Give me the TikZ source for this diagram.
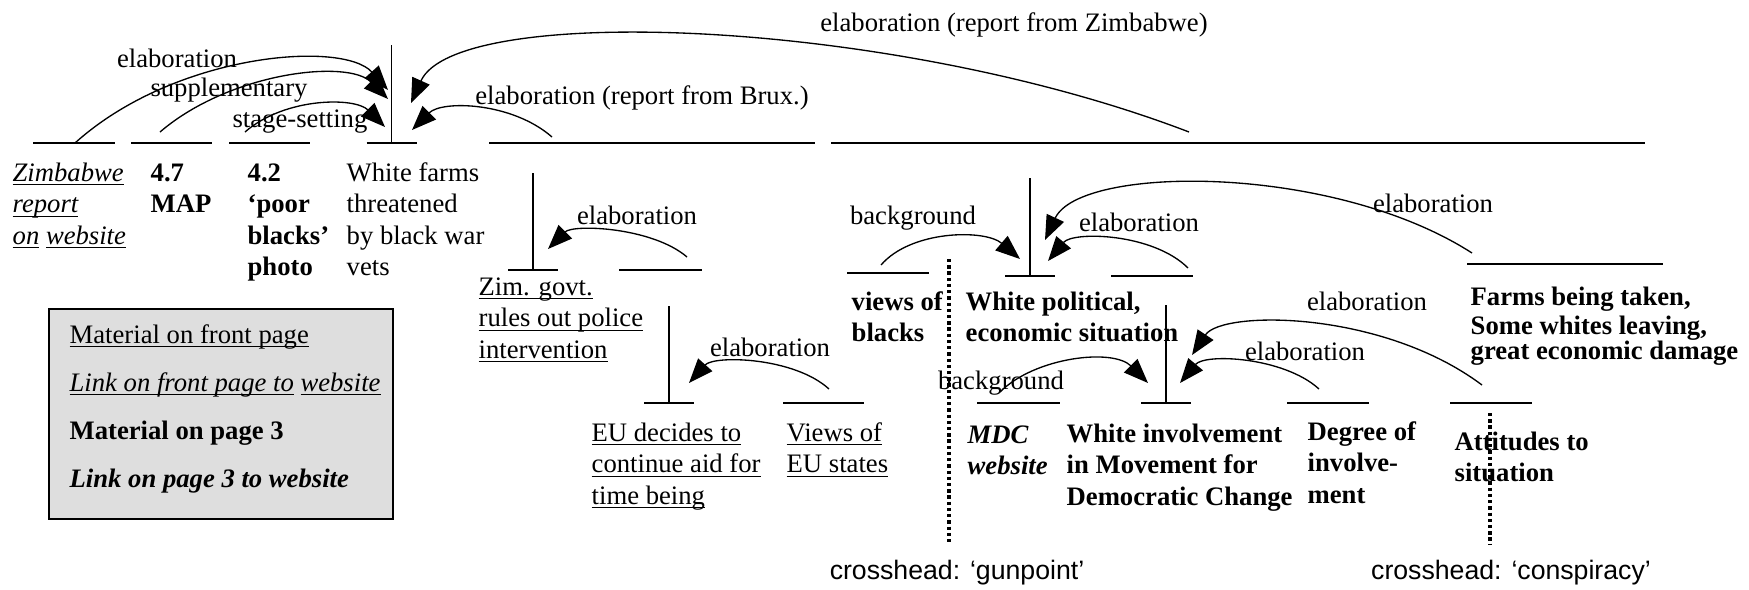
\documentclass[tikz,border=0pt]{standalone}
\usepackage{fontspec}
\setmainfont{Liberation Serif}
\newfontfamily\headfont{Liberation Sans}
\usetikzlibrary{arrows.meta}
\definecolor{boxgray}{gray}{0.87}
\newcommand\ulined[1]{\setbox0\hbox{#1}\rlap{\rule[-1.8pt]{\wd0}{0.5pt}}\box0\relax}

\begin{document}
\begin{tikzpicture}[x=0.45pt,y=-0.45pt,line width=0.6pt,
  txt/.style={anchor=north west,inner sep=0pt,align=left,font=\fontsize{12}{14.2}\selectfont},
  txtb/.style={txt,font=\fontsize{12}{14.2}\selectfont\bfseries},
  txti/.style={txt,font=\fontsize{12}{14.2}\selectfont\itshape},
  txtbi/.style={txt,font=\fontsize{12}{14.2}\selectfont\bfseries\itshape},
  lbl/.style={inner sep=0pt,font=\fontsize{12}{14.2}\selectfont},
  rel/.style={-{Triangle[length=11pt,width=8.5pt]}},
  cut/.style={line width=1.5pt,dash pattern=on 1.5pt off 1.3pt},
  crosslbl/.style={inner sep=0pt,font=\fontsize{12}{14.2}\headfont}]
\useasboundingbox (0,0) rectangle (1749,589);

% spans
\foreach \xa/\xb/\y in {33/115/143, 131/212/143, 229/310/143, 489/815/143, 831/1645/143,
  619/702/270, 847/929/273, 1111/1193/276, 1467/1663/264,
  783/864/403, 977/1060/403, 1287/1369/403, 1450/1532/403}
  \draw (\xa,\y) -- (\xb,\y);
% nuclei
\foreach \xn/\ya/\yb in {391.7/45/143, 533/173/270, 669/306/403, 1030/178/276, 1166/305/403}
  \draw (\xn-25,\yb) -- (\xn+25,\yb) (\xn,\yb) -- (\xn,\ya);

% crossheads
\draw[cut] (949,259) -- (949,545);
\draw[cut] (1490,413) -- (1490,545);
\node[crosslbl] (gunpoint) at (957,573) {crosshead: ‘gunpoint’};
\node[crosslbl] (conspiracy) at (1511,573) {crosshead: ‘conspiracy’};

% relations
\coordinate (repA) at (75,143);    \coordinate (topA) at (388,90);
\coordinate (mapA) at (160,132);   \coordinate (topB) at (388,99);
\coordinate (photoA) at (245,132); \coordinate (topC) at (385,127);
\coordinate (bruxA) at (552,137);  \coordinate (topD) at (412,130);
\coordinate (zimA) at (1189,132);  \coordinate (topE) at (411,103);
\coordinate (govA) at (687,257);   \coordinate (govB) at (548,249);
\coordinate (euA) at (829,389);    \coordinate (euB) at (689,383);
\coordinate (viewsA) at (881,265); \coordinate (polA) at (1020,259);
\coordinate (polsatA) at (1188,268); \coordinate (polB) at (1048,261);
\coordinate (farmsA) at (1472,253);  \coordinate (polC) at (1045,240);
\coordinate (mdcA) at (1000,392);  \coordinate (invA) at (1148,383);
\coordinate (degA) at (1319,389);  \coordinate (invB) at (1180,383);
\coordinate (attA) at (1482,385);  \coordinate (invC) at (1192,355);

\draw[rel] (repA) .. controls +(100,-90) and +(-45,-50) .. (topA);
\draw[rel] (mapA) .. controls +(70,-60) and +(-40,-40) .. (topB);
\draw[rel] (photoA) .. controls +(40,-35) and +(-30,-30) .. (topC);
\draw[rel] (bruxA) .. controls +(-40,-35) and +(30,-30) .. (topD);
\draw[rel] (zimA) .. controls +(-300,-115) and +(45,-100) .. (topE);
\draw[rel] (govA) .. controls +(-35,-30) and +(25,-25) .. (govB);
\draw[rel] (euA) .. controls +(-35,-32) and +(25,-28) .. (euB);
\draw[rel] (viewsA) .. controls +(30,-35) and +(-35,-30) .. (polA);
\draw[rel] (polsatA) .. controls +(-35,-35) and +(25,-30) .. (polB);
\draw[rel] (farmsA) .. controls +(-140,-90) and +(35,-75) .. (polC);
\draw[rel] (mdcA) .. controls +(35,-35) and +(-35,-35) .. (invA);
\draw[rel] (degA) .. controls +(-35,-32) and +(25,-30) .. (invB);
\draw[rel] (attA) .. controls +(-100,-75) and +(30,-45) .. (invC);

\node[lbl] (elabRep) at (177,58) {elaboration};
\node[lbl] (suppMap) at (229,90) {supplementary};
\node[lbl] (stagePhoto) at (300,122) {stage-setting};
\node[lbl] (elabBrux) at (642,98) {elaboration (report from Brux.)};
\node[lbl] (elabZim) at (1014,25) {elaboration (report from Zimbabwe)};
\node[lbl] (elabGov) at (637,215) {elaboration};
\node[lbl] (elabEU) at (770,347) {elaboration};
\node[lbl] (bgViews) at (913,218) {background};
\node[lbl] (elabPol) at (1139,222) {elaboration};
\node[lbl] (elabFarms) at (1433,203) {elaboration};
\node[lbl] (bgMDC) at (1001,383) {background};
\node[lbl] (elabDeg) at (1305,351) {elaboration};
\node[lbl] (elabAtt) at (1367,301) {elaboration};

% segments
\node[txti] (zimrep) at (12,158.5) {\strut\ulined{Zimbabwe}\\\ulined{report}\\\ulined{on} \ulined{website}};
\node[txtb] (map) at (150,158.5) {\strut 4.7\\MAP};
\node[txtb] (photo) at (247,158.5) {\strut 4.2\\‘poor\\blacks’\\photo};
\node[txt] (farms) at (346,158.5) {\strut White farms\\threatened\\by black war\\vets};
\node[txt] (zimgov) at (478,272.5) {\strut\ulined{Zim. govt.}\\\ulined{rules out police}\\\ulined{intervention}};
\node[txt] (euaid) at (591,418.5) {\strut\ulined{EU decides to}\\\ulined{continue aid for}\\\ulined{time being}};
\node[txt] (euviews) at (786,418.5) {\strut\ulined{Views of}\\\ulined{EU states}};
\node[txtb] (blackviews) at (851,287.5) {\strut views of\\blacks};
\node[txtb] (whitepol) at (965,287.5) {\strut White political,\\economic situation};
\node[txtb,font=\fontsize{12}{11.5}\selectfont\bfseries] (farmstaken) at (1470,286.6)
  {\strut Farms being taken,\\Some whites leaving,\\great economic damage};
\node[txtbi] (mdc) at (967,420.5) {\strut MDC\\website};
\node[txtb] (whiteinv) at (1066,419.5) {\strut White involvement\\in Movement for\\Democratic Change};
\node[txtb] (degree) at (1307,417.5) {\strut Degree of\\involve-\\ment};
\node[txtb] (attitudes) at (1454,427.5) {\strut Attitudes to\\situation};

% key
\draw[fill=boxgray,line width=0.8pt] (49,309) rectangle (393,519);
\node[txt,font=\fontsize{12}{21.7}\selectfont] (key) at (69,308.7)
  {\strut\ulined{Material on front page}\\
   {\itshape\ulined{Link on front page to} \ulined{website}}\\
   {\bfseries Material on page 3}\\
   {\bfseries\itshape Link on page 3 to website}};
\end{tikzpicture}
\end{document}
